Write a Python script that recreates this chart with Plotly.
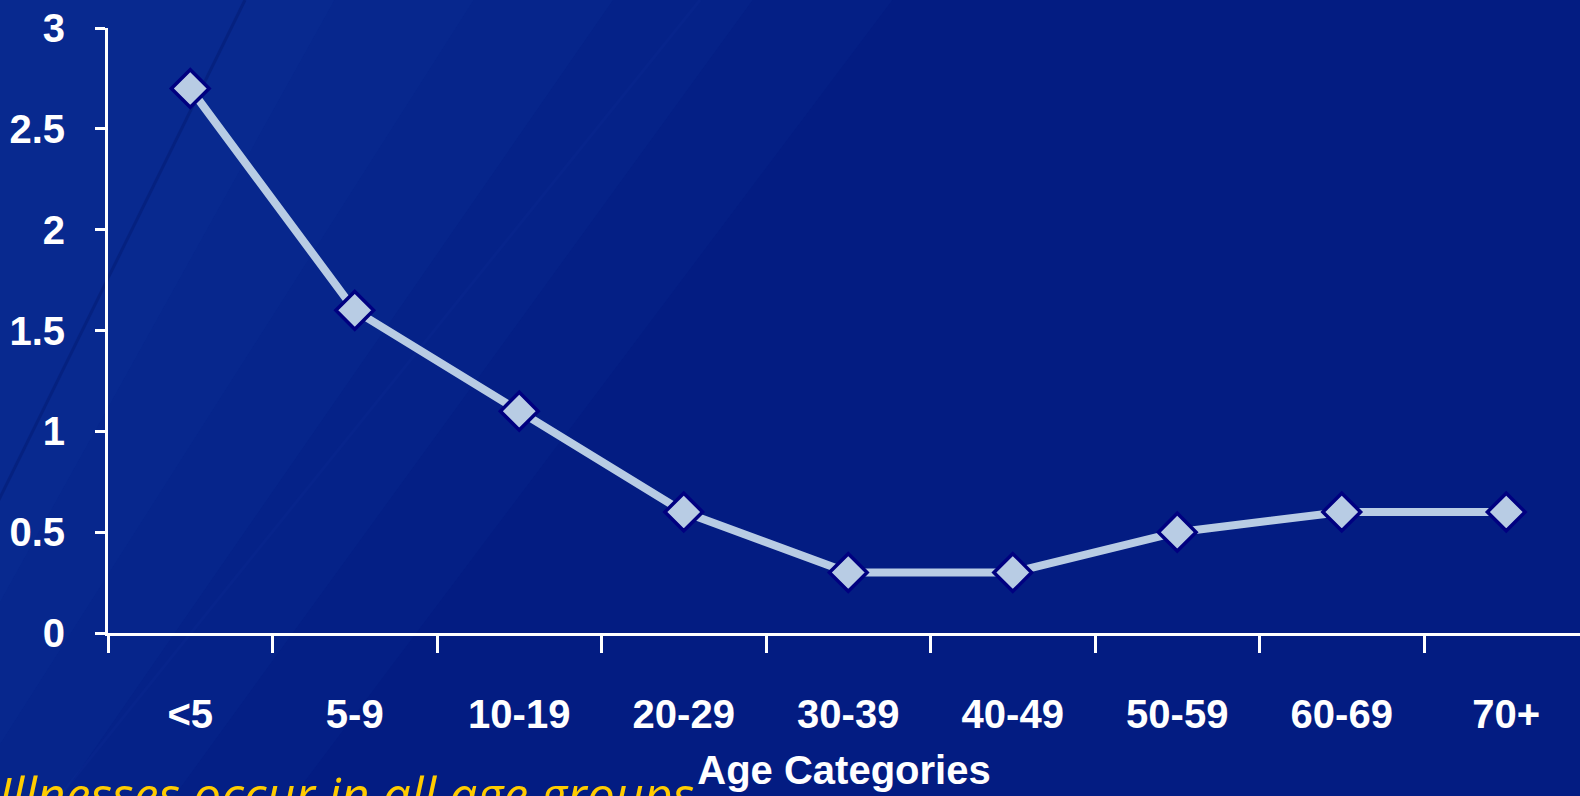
import plotly.graph_objects as go

categories = ["<5", "5-9", "10-19", "20-29", "30-39", "40-49", "50-59", "60-69", "70+"]
values = [2.7, 1.6, 1.1, 0.6, 0.3, 0.3, 0.5, 0.6, 0.6]
y_ticks = [0, 0.5, 1, 1.5, 2, 2.5, 3]
y_tick_labels = ["0", "0.5", "1", "1.5", "2", "2.5", "3"]
x_title = "Age Categories"
note = "Illnesses occur in all age groups"

W, H = 1580, 796
ML, MR, MT, MB = 108, 0, 28, 163
PW, PH = W - ML - MR, H - MT - MB


def px(x):
    return (x - ML) / PW


def py(y):
    return (H - MB - y) / PH


fig = go.Figure()
fig.add_trace(go.Scatter(
    x=categories, y=values, mode="lines+markers",
    line=dict(color="#b8cce4", width=8),
    marker=dict(symbol="diamond", size=29, color="#b8cce4",
                line=dict(color="#000080", width=3.5)),
    showlegend=False, hoverinfo="x+y", cliponaxis=False,
))

shapes = []
# soft lighter wash toward the left
for (xa, yb) in [(900, 1200), (760, 1050), (620, 900), (480, 760), (340, 620)]:
    shapes.append(dict(type="path", xref="paper", yref="paper", layer="below",
                       path=f"M {px(-10)},{py(-10)} L {px(xa)},{py(-10)} L {px(-10)},{py(yb)} Z",
                       fillcolor="#2a50c0", opacity=0.06, line=dict(width=0)))
# faint diagonal streaks
for (x0, y0, x1, y1, c, o) in [(245, 0, -80, 660, "#00125e", 0.30),
                                (700, 0, 60, 796, "#2a50c0", 0.05)]:
    shapes.append(dict(type="line", xref="paper", yref="paper", layer="below",
                       x0=px(x0), y0=py(y0), x1=px(x1), y1=py(y1),
                       line=dict(color=c, width=3), opacity=o))

tick_font = dict(size=40, color="white", family="Liberation Sans, Arial", weight="bold")

fig.update_layout(
    width=W, height=H,
    margin=dict(l=ML, r=MR, t=MT, b=MB, pad=0),
    paper_bgcolor="#031c82",
    plot_bgcolor="rgba(0,0,0,0)",
    font=dict(family="Liberation Sans, Arial, sans-serif", color="white"),
    shapes=shapes,
    xaxis=dict(
        type="category", categoryorder="array", categoryarray=categories,
        range=[-0.5, -0.5 + PW / 164.5], tickson="boundaries",
        showline=True, linecolor="white", linewidth=3,
        ticks="outside", ticklen=17, tickwidth=3, tickcolor="white",
        showgrid=False, zeroline=False,
        tickfont=tick_font,
        ticklabelstandoff=44,
        title=dict(text=x_title, standoff=21, font=tick_font),
        automargin=False, fixedrange=True,
    ),
    yaxis=dict(
        range=[0, 3], tickvals=y_ticks, ticktext=y_tick_labels,
        showline=True, linecolor="white", linewidth=3,
        ticks="outside", ticklen=10, tickwidth=3, tickcolor="white",
        showgrid=False, zeroline=False,
        tickfont=tick_font,
        ticklabelstandoff=22,
        automargin=False, fixedrange=True,
    ),
    annotations=[dict(
        text=note, xref="paper", yref="paper", x=px(-4), y=py(794),
        xanchor="left", yanchor="middle", showarrow=False,
        font=dict(size=50, color="#ffcc00", family="Open Sans, sans-serif", style="italic"),
    )],
)

fig.write_html("out.html", config={"displayModeBar": False})
